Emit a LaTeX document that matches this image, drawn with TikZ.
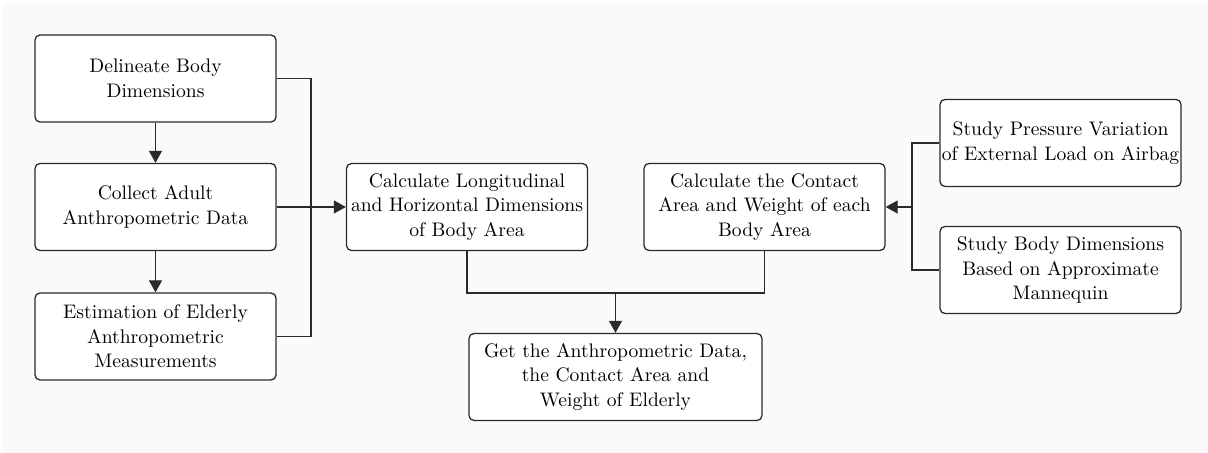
\documentclass[tikz,border=0pt]{standalone}
\usepackage{xcolor}
\usetikzlibrary{arrows.meta}

\definecolor{bggray}{HTML}{FAFAFA}
\definecolor{linegray}{HTML}{2A2A2A}

\begin{document}
\begin{tikzpicture}[x=0.5pt, y=-0.5pt,
    box/.style={draw=linegray, fill=white, line width=0.65pt, rounded corners=2.5pt,
      align=center, inner xsep=0pt, minimum width=120.5pt, minimum height=43.5pt,
      font=\fontsize{9.8}{12.3}\selectfont},
    link/.style={draw=linegray, line width=0.65pt},
    >={Triangle[length=6pt,width=6.5pt]}]
    \fill [white] (0,0) rectangle (1208,453);
    \fill [bggray] (2,3) rectangle (1208,453);
    \useasboundingbox (0,0) rectangle (1208,453);

    \node [box] (delin) at (155.5,78.5) {Delineate Body\\Dimensions};
    \node [box] (collect) at (155.5,207) {Collect Adult\\Anthropometric Data};
    \node [box] (estim) at (155.5,336.5) {Estimation of Elderly\\Anthropometric\\Measurements};
    \node [box] (longi) at (467,207) {Calculate Longitudinal\\and Horizontal Dimensions\\of Body Area};
    \node [box] (contact) at (764.5,207) {Calculate the Contact\\Area and Weight of each\\Body Area};
    \node [box] (pressure) at (1060.5,143) {Study Pressure Variation\\of External Load on Airbag};
    \node [box] (manne) at (1060.5,270) {Study Body Dimensions\\Based on Approximate\\Mannequin};
    \node [box, minimum width=146.5pt] (result) at (615.5,377) {Get the Anthropometric Data,\\the Contact Area and\\Weight of Elderly};

    \coordinate (lj) at (311,207);
    \coordinate (bj) at (615.5,293);
    \coordinate (rj) at (912,207);

    \draw [link,->] (delin) -- (collect);
    \draw [link,->] (collect) -- (estim);
    \draw [link] (delin.east) -| (lj) |- (estim.east);
    \draw [link,->] (collect.east) -- (longi.west);
    \draw [link] (longi.south) |- (bj) -| (contact.south);
    \draw [link,->] (bj) -- (result.north);
    \draw [link] (pressure.west) -| (rj) |- (manne.west);
    \draw [link,->] (rj) -- (contact.east);
\end{tikzpicture}
\end{document}
